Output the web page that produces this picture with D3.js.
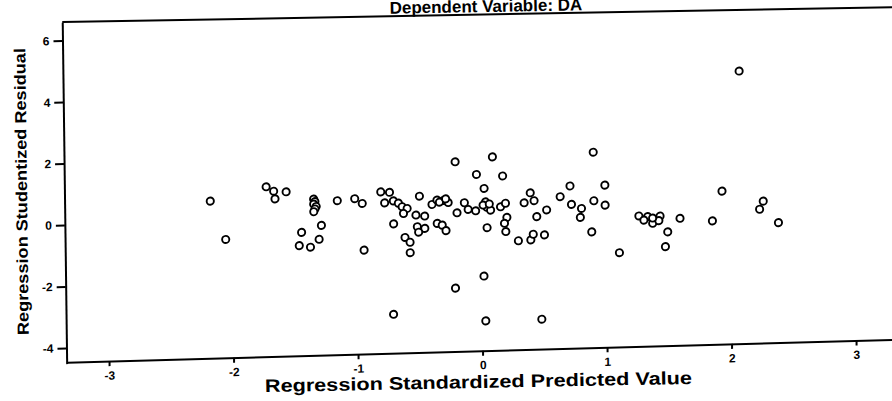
<!DOCTYPE html>
<meta charset="utf-8">
<script src="https://d3js.org/d3.v7.min.js"></script>
<style>
  body { margin: 0; background: #fff; }
  text { font-family: "Liberation Sans", Arial, sans-serif; font-weight: bold; fill: #000; }
</style>
<div id="chart"></div>
<script>
// axis ranges and ticks
const xMin = -3.34, xMax = 3.5
const yMin = -4.51, yMax = 6.6
const xTicks = [-3, -2, -1, 0, 1, 2, 3]
const yTicks = [-4, -2, 0, 2, 4, 6]

// Regression Standardized Predicted Value
const predicted = [-2.17, -2.05, -1.72, -1.66, -1.65, -1.56, -1.34, -1.33, -1.34, -1.32,
  -1.33, -1.34, -1.15, -1.28, -1.44, -1.30, -1.46, -1.37, -1.01, -0.95, -0.94, -0.80,
  -0.73, -0.77, -0.70, -0.66, -0.63, -0.59, -0.62, -0.49, -0.52, -0.45,
  -0.39, -0.35, -0.30, -0.26, -0.33, -0.28, -0.70, -0.51, -0.45, -0.50, -0.61, -0.57,
  -0.57, -0.35, -0.31, -0.28, -0.20, 0.10, -0.03, 0.18, 0.03, 0.91,
  0.72, 1.00, 0.40, 0.43, 0.35, 0.64, 0.73, 0.81, 0.91, 1.00,
  0.80, 0.53, 0.45, 0.89, 1.11, -0.19, -0.13, -0.10, -0.04, 0.04,
  0.05, 0.08, 0.02, 0.07, 0.16, 0.20, 0.21, 0.19, 0.20, 0.05, 0.30, 0.40,
  0.42, 0.51, 2.09, 1.94, 2.27, 2.24, 2.39, 1.86, 1.60, 1.27,
  1.34, 1.44, 1.38, 1.43, 1.31, 1.38, 1.50, 1.48, 0.02, -0.21, -0.71, 0.03, 0.48]

// Regression Studentized Residual
const residual = [0.66, -0.60, 1.08, 0.93, 0.68, 0.90, 0.64, 0.56, 0.48, 0.40,
  0.32, 0.23, 0.57, -0.22, -0.43, -0.67, -0.86, -0.92, 0.62, 0.46, -1.06, 0.82,
  0.80, 0.46, 0.52, 0.44, 0.32, 0.26, 0.10, 0.65, 0.04, 0.00,
  0.37, 0.51, 0.49, 0.42, 0.44, 0.54, -0.23, -0.34, -0.40, -0.52, -0.68, -0.84,
  -1.18, -0.25, -0.31, -0.49, 1.74, 1.87, 1.31, 1.24, 0.85, 1.94,
  0.86, 0.86, 0.67, 0.41, 0.35, 0.52, 0.26, 0.12, 0.36, 0.21,
  -0.17, 0.10, -0.11, -0.65, -1.35, 0.08, 0.40, 0.18, 0.13, 0.41,
  0.24, 0.14, 0.31, 0.34, 0.24, 0.35, -0.11, -0.30, -0.57, -0.43, -0.88, -0.86,
  -0.68, -0.71, 4.46, 0.57, 0.21, -0.05, -0.50, -0.39, -0.28, -0.17,
  -0.20, -0.19, -0.42, -0.34, -0.31, -0.25, -0.71, -1.19, -2.00, -2.37, -3.17, -3.46, -3.45]

const data = predicted.map((p, i) => ({x: p, y: residual[i]}))

const pxPerX = 124.5, pxPerY = 30.74
const width = pxPerX * (xMax - xMin)
const height = pxPerY * (yMax - yMin)

const x = d3.scaleLinear().domain([xMin, xMax]).range([0, width])
const y = d3.scaleLinear().domain([yMin, yMax]).range([height, 0])

const svg = d3.select("#chart")
    .append("svg")
    .attr("width", 892)
    .attr("height", 401)

// the scanned page is slightly skewed, so the plot sits in a skewed frame
const origin = [480.7, 214.65]
const slope = -0.0249, lean = 0.013
const tl = [origin[0] + xMin * pxPerX - yMax * pxPerY * lean,
            origin[1] + xMin * pxPerX * slope - yMax * pxPerY]

const plot = svg.append("g")
    .attr("transform", `matrix(1, ${slope}, ${lean}, 1, ${tl[0]}, ${tl[1]})`)

// top frame line
svg.append("g")
    .attr("transform", `matrix(1, -0.018, 0, 1, ${tl[0]}, ${tl[1]})`)
  .append("line")
    .attr("x1", 0).attr("x2", width)
    .attr("stroke", "#000").attr("stroke-width", 2)

// left axis
const yAxis = plot.append("g")
    .call(d3.axisLeft(y).tickValues(yTicks).tickFormat(d => String(d))
      .tickSize(9).tickSizeOuter(0).tickPadding(4))
yAxis.selectAll("path, line").attr("stroke", "#000").attr("stroke-width", 2)
yAxis.selectAll("text").style("font-size", "12px").style("font-family", null)

// bottom axis
const xAxisG = svg.append("g")
    .attr("transform", `matrix(1, -0.0277, ${lean}, 1, 66.7, 362.3)`)
    .call(d3.axisBottom(x).tickValues(xTicks).tickFormat(d => String(d))
      .tickSize(5).tickSizeOuter(0).tickPadding(5))
xAxisG.selectAll("path, line").attr("stroke", "#000").attr("stroke-width", 2)
xAxisG.selectAll("text").style("font-size", "12px").style("font-family", null)

// points
plot.append("g")
    .selectAll("circle")
    .data(data)
    .join("circle")
      .attr("cx", d => x(d.x))
      .attr("cy", d => y(d.y))
      .attr("r", 3.6)
      .attr("fill", "#fff")
      .attr("stroke", "#000")
      .attr("stroke-width", 1.9)

// titles
svg.append("text")
    .attr("transform", "translate(486, 12) rotate(-1)")
    .attr("text-anchor", "middle")
    .style("font-size", "17px")
    .text("Dependent Variable: DA")

svg.append("text")
    .attr("transform", "translate(478.5, 388) rotate(-1.1)")
    .attr("text-anchor", "middle")
    .attr("textLength", 427)
    .attr("lengthAdjust", "spacingAndGlyphs")
    .style("font-size", "18px")
    .text("Regression Standardized Predicted Value")

svg.append("text")
    .attr("transform", "translate(27, 191.5) rotate(-90.7)")
    .attr("text-anchor", "middle")
    .attr("textLength", 287)
    .attr("lengthAdjust", "spacingAndGlyphs")
    .style("font-size", "16px")
    .text("Regression Studentized Residual")
</script>
